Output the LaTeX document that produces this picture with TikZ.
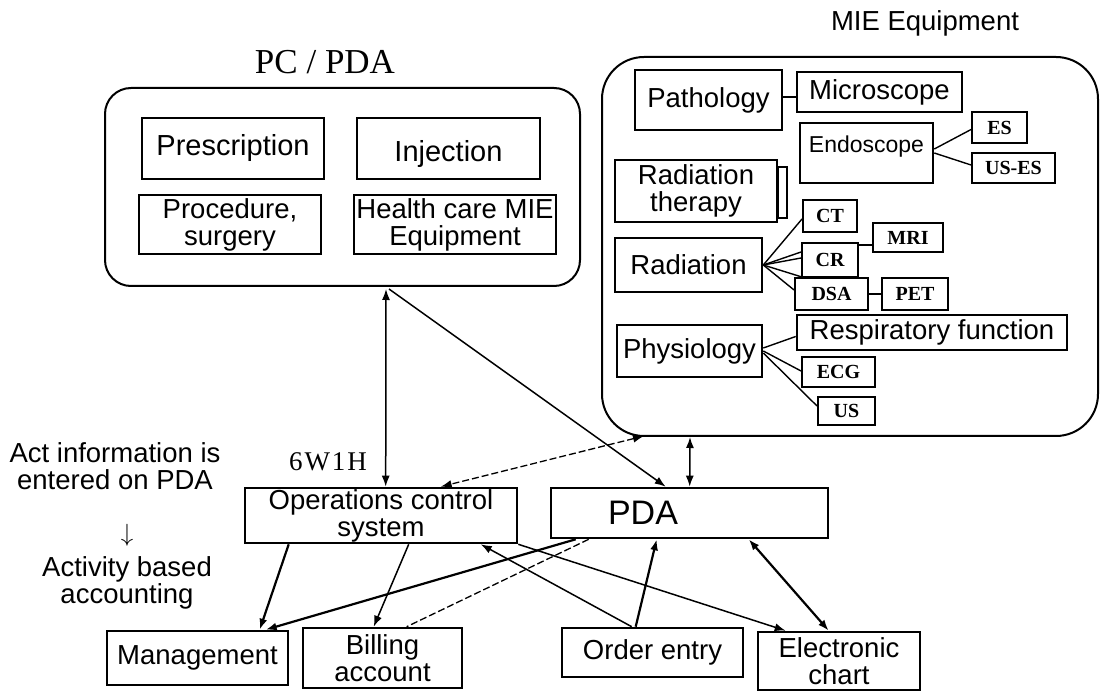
\documentclass[tikz,border=0pt]{standalone}
\usepackage{fontspec}
\setmainfont{Liberation Sans}
\newfontfamily\seriffont{Liberation Serif}
\usetikzlibrary{calc,arrows.meta}
\begin{document}
\begin{tikzpicture}[x=1pt,y=-1pt,
  >={Latex[length=11pt,width=8pt]},
  txt/.style={inner sep=0pt, align=center, font=\fontsize{27.5}{27}\selectfont},
  bx/.style={draw, line width=2.6pt, inner sep=0pt, align=center, font=\fontsize{27.5}{27}\selectfont},
  bigtxt/.style={font=\fontsize{29}{28}\selectfont},
  sbx/.style={draw, line width=1.9pt, inner sep=0pt, font=\seriffont\bfseries\fontsize{20}{20}\selectfont},
  frame/.style={draw, line width=2pt, inner sep=0pt},
  lnk/.style={line width=1.4pt},
  conn/.style={line width=1.5pt},
  heavy/.style={line width=2.2pt},
  dsh/.style={line width=1.3pt, dash pattern=on 7pt off 3pt}
]
\useasboundingbox (0,0) rectangle (1101,692);

% ---------- PC / PDA group ----------
\node[font=\seriffont\fontsize{35}{35}\selectfont, inner sep=0pt] (pctitle) at (325,62) {PC / PDA};
\node[frame, rounded corners=26pt, minimum width=475, minimum height=198] (pcf) at (342.5,187) {};
\node[bx, bigtxt, minimum width=182, minimum height=61] (presc) at (233,148.5) {Prescription};
\node[bx, bigtxt, minimum width=183, minimum height=61, text height=33pt] (inj) at (448.5,148.5) {Injection};
\node[bx, minimum width=182, minimum height=59] (proc) at (230,224.5) {Procedure,\\surgery};
\node[bx, minimum width=202, minimum height=59] (health) at (455,224.5) {Health care MIE\\Equipment};

% ---------- MIE Equipment group ----------
\node[txt] (mietitle) at (925,23) {MIE Equipment};
\node[frame, rounded corners=42pt, minimum width=496, minimum height=379] (mief) at (850,246.5) {};
\node[bx, minimum width=147, minimum height=60] (patho) at (708.5,100) {Pathology};
\node[bx, minimum width=165, minimum height=40] (micro) at (879.5,92) {Microscope};
\node[bx, minimum width=133, minimum height=60, text depth=17pt, font=\fontsize{23}{23}\selectfont] (endo) at (866.5,153) {Endoscope};
\node[sbx, minimum width=55, minimum height=31] (es) at (999.5,127.5) {ES};
\node[sbx, minimum width=83, minimum height=30] (uses) at (1013.5,168) {US-ES};
\node[bx, minimum width=162, minimum height=62] (radth) at (696,191) {Radiation\\therapy};
\node[draw, line width=1.5pt, inner sep=0pt, minimum width=9, minimum height=51] (rtb) at (782.5,192.5) {};
\node[sbx, minimum width=54, minimum height=32] (ct) at (830,216) {CT};
\node[sbx, minimum width=70, minimum height=29] (mri) at (908,237.5) {MRI};
\node[sbx, minimum width=56, minimum height=34] (cr) at (830,260) {CR};
\node[bx, minimum width=147, minimum height=54] (rad) at (688.5,265) {Radiation};
\node[sbx, minimum width=73, minimum height=32] (dsa) at (831.5,294) {DSA};
\node[sbx, minimum width=66, minimum height=32] (pet) at (915,294) {PET};
\node[bx, minimum width=270, minimum height=35] (resp) at (932,332.5) {Respiratory function};
\node[bx, minimum width=145, minimum height=52] (phys) at (689.5,351) {Physiology};
\node[sbx, minimum width=73, minimum height=30] (ecg) at (838.5,372) {ECG};
\node[sbx, minimum width=57, minimum height=28] (us) at (846.5,411) {US};

% links inside MIE
\coordinate (pm) at ($(micro.west)+(0,5)$);
\draw[lnk] (pm) -- (pm -| patho.east);
\draw[lnk] ($(endo.east)+(0,-4)$) -- ($(es.west)+(0,2)$);
\draw[lnk] (endo.east) -- ($(uses.west)+(0,-3)$);
\draw[lnk] (rad.east) -- ($(ct.south west)+(0,-14)$);
\draw[lnk] (rad.east) -- ($(cr.west)+(0,-8)$);
\draw[lnk] (rad.east) -- ($(cr.west)+(0,-2)$);
\draw[lnk] (rad.east) -- ($(dsa.north west)+(8,0)$);
\draw[lnk] (rad.east) -- ($(dsa.west)+(0,-4)$);
\coordinate (crm) at ($(cr.north east)+(0,3)$);
\draw[lnk] (crm) -- (crm -| mri.west);
\draw[lnk] (dsa.east) -- (pet.west);
\draw[lnk] ($(phys.east)+(0,-3)$) -- ($(resp.west)+(0,4)$);
\draw[lnk] (phys.east) -- ($(ecg.west)+(0,-1)$);
\draw[lnk] ($(phys.east)+(0,2)$) -- ($(us.west)+(0,-5)$);

% ---------- left notes ----------
\node[txt] (act) at (115,466) {Act information is\\entered on PDA};
\node[inner sep=0pt, font=\fontsize{24}{24}\selectfont] (darr) at (127,535) {$\downarrow$};
\node[txt] (abc) at (127,583) {Activity based\\accounting};
\node[inner sep=0pt, font=\seriffont\fontsize{27}{27}\selectfont] (w6) at (328,462) {6\kern2pt W\kern2pt 1\kern2pt H};

% ---------- bottom systems ----------
\node[bx, minimum width=272, minimum height=55] (ops) at (381,515.5) {Operations control\\system};
\node[bx, minimum width=277, minimum height=50, font=\fontsize{34}{34}\selectfont] (pda) at (689.5,513) {PDA\hspace*{93pt}};
\node[bx, minimum width=181, minimum height=54] (mgmt) at (197.5,658) {Management};
\node[bx, minimum width=159, minimum height=60] (bill) at (382.5,658) {Billing\\account};
\node[bx, minimum width=181, minimum height=49] (order) at (652.5,652.5) {Order entry};
\node[bx, minimum width=162, minimum height=58] (echart) at (839,661) {Electronic\\chart};

% ---------- connectors ----------
\coordinate (pcb) at ($(pcf.south west)+(282,2)$);
\draw[conn,<->] (pcb) -- ($(ops.north west)+(142,0)$);
\draw[conn,->] ($(pcb)+(3,0)$) -- ($(pda.north west)+(116,0)$);
\draw[dsh,<->] ($(mief.south west)+(43,-1)$) -- ($(ops.north west)+(197,0)$);
\draw[conn,<->] ($(mief.south west)+(89,0)$) -- ($(pda.north west)+(140,0)$);
\draw[heavy,->] ($(ops.south west)+(45,0)$) -- ($(mgmt.north west)+(154,0)$);
\draw[heavy,->] ($(pda.south west)+(26,0)$) -- ($(mgmt.north west)+(160,0)$);
\draw[conn,->] ($(ops.south west)+(165,0)$) -- ($(bill.north west)+(72,0)$);
\draw[dsh] ($(pda.south west)+(39,0)$) -- ($(bill.north west)+(105,0)$);
\draw[conn,->] ($(order.north west)+(71,0)$) -- ($(ops.south west)+(237,0)$);
\draw[conn,->] (ops.south east) -- ($(echart.north west)+(29,0)$);
\draw[heavy,->] ($(order.north west)+(75,0)$) -- ($(pda.south west)+(107,0)$);
\draw[heavy,<->] ($(pda.south west)+(199,0)$) -- ($(echart.north west)+(72,0)$);
\end{tikzpicture}
\end{document}
